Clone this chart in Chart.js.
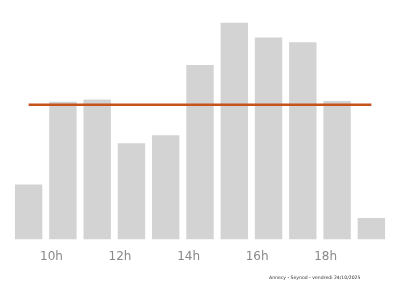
<!DOCTYPE html>
<html>
<head>
<meta charset="utf-8">
<script src="https://cdn.jsdelivr.net/npm/chart.js@4"></script>
<style>
  html, body { margin: 0; padding: 0; background: #fff; }
  #wrap { position: relative; width: 400px; height: 286px; }
  #footer {
    position: absolute; left: 269px; top: 275px;
    font-family: "DejaVu Sans", sans-serif; font-size: 4.6px; color: #333;
    white-space: nowrap;
  }
</style>
</head>
<body>
<div id="wrap">
  <canvas id="affluenceChart" width="400" height="286"></canvas>
  <div id="footer">Annecy - Seynod - vendredi 24/10/2025</div>
</div>
<script>
// heures
const hours = ["9h", "10h", "11h", "12h", "13h", "14h", "15h", "16h", "17h", "18h", "19h"];
// affluence par heure (%)
const affluence = [24, 60, 61, 42, 45.5, 76, 94.5, 88, 86, 60.4, 9.4];
// moyenne de la journée
const moyenne = 58.7;
const moyenneLine = hours.map(() => moyenne);

const ctx = document.getElementById("affluenceChart").getContext("2d");
new Chart(ctx, {
  type: 'bar',
  data: {
    labels: hours,
    datasets: [
      {
        type: 'line',
        data: moyenneLine,
        borderColor: "#c4531c",
        borderWidth: 2.5,
        pointRadius: 0,
        fill: false,
        order: 0
      },
      {
        data: affluence,
        backgroundColor: "#d3d3d3",
        barPercentage: 0.8,
        categoryPercentage: 1,
        order: 1
      }
    ]
  },
  options: {
    responsive: false,
    animation: false,
    layout: { padding: { left: 11.5, right: 11.5, top: 10, bottom: 20 } },
    plugins: {
      legend: { display: false },
      tooltip: { enabled: false }
    },
    scales: {
      y: { display: false, min: 0, max: 100 },
      x: {
        grid: { display: false, drawTicks: true },
        border: { display: false },
        ticks: {
          autoSkip: false,
          maxRotation: 0,
          align: 'end',
          padding: 2,
          color: "#888",
          font: { family: "DejaVu Sans", size: 12 },
          callback: function(value, index) {
            return index % 2 === 1 ? hours[index] : "";
          }
        }
      }
    }
  }
});
</script>
</body>
</html>
